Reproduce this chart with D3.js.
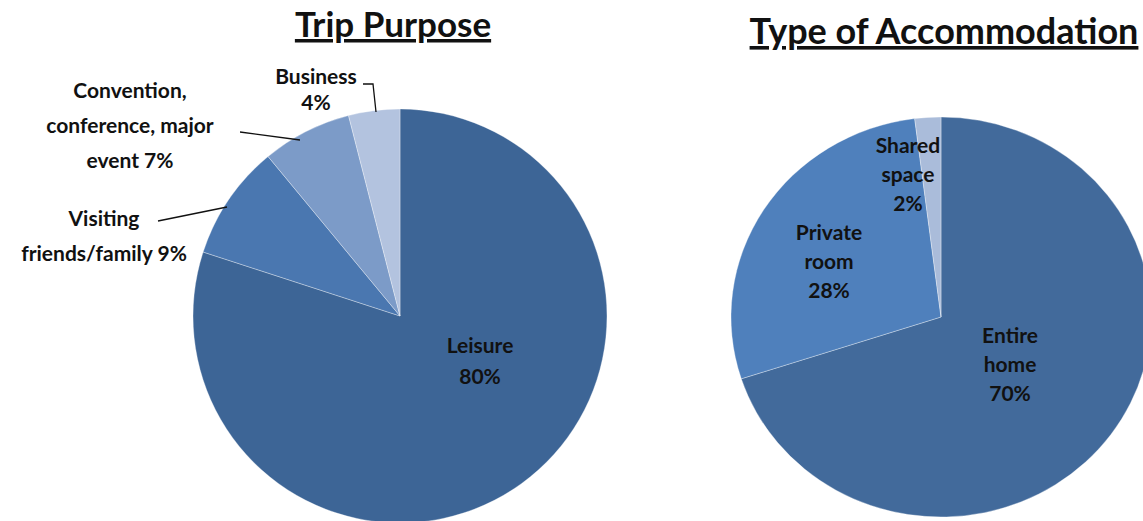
<!DOCTYPE html>
<html>
<head>
<meta charset="utf-8">
<script src="https://cdn.jsdelivr.net/npm/d3@7"></script>
<style>
  html, body { margin: 0; padding: 0; background: #fff; }
  svg { display: block; }
  text { font-family: Lato, "Open Sans", sans-serif; font-weight: 700; fill: #111; }
</style>
</head>
<body>
<svg id="chart" width="1143" height="521"></svg>
<script>
// Trip purpose shares (%)
const purposeCategories = ["Leisure", "Visiting friends/family", "Convention, conference, major event", "Business"];
const purposeValues = [80, 9, 7, 4];
const purposeColors = ["#3d6596", "#4a77b0", "#7c9bc8", "#b3c3df"];

// Accommodation type shares (%)
const accomCategories = ["Entire home", "Private room", "Shared space"];
const accomValues = [70, 28, 2];
const accomColors = ["#426a9b", "#4f80bc", "#aabcda"];

const svg = d3.select("#chart");
const pie = d3.pie().sort(null).value(d => d.value);

function drawPie(opts) {
  const data = opts.categories.map((c, i) => ({ name: c, value: opts.values[i], color: opts.colors[i] }));
  const arcs = pie(data);
  const arc = d3.arc().innerRadius(0).outerRadius(opts.r);
  const g = svg.append("g")
    .attr("transform", `translate(${opts.cx},${opts.cy}) scale(${opts.sx || 1},1)`);
  g.selectAll("path")
    .data(arcs)
    .join("path")
    .attr("d", arc)
    .attr("fill", d => d.data.color)
    .attr("stroke", "rgba(255,255,255,0.55)")
    .attr("stroke-width", 0.6);

  // title
  svg.append("text")
    .attr("x", opts.titleX)
    .attr("y", opts.titleY)
    .attr("text-anchor", "middle")
    .style("font-size", opts.titleSize + "px")
    .style("text-decoration", "underline")
    .text(opts.title);

  // labels
  opts.labels.forEach((lab, i) => {
    const d = arcs[i];
    const txt = svg.append("text")
      .attr("text-anchor", "middle")
      .style("font-size", opts.labelSize + "px");
    lab.lines(d).forEach((line, j) => {
      txt.append("tspan")
        .attr("x", lab.x)
        .attr("y", lab.y + j * lab.lh)
        .text(line);
    });
    if (lab.leader) {
      svg.append("polyline")
        .attr("points", lab.leader.map(p => p.join(",")).join(" "))
        .attr("fill", "none")
        .attr("stroke", "#111")
        .attr("stroke-width", 1.3);
    }
  });
}

const pct = d => d.data.value + "%";

drawPie({
  categories: purposeCategories, values: purposeValues, colors: purposeColors,
  cx: 400, cy: 316, r: 207,
  title: "Trip Purpose", titleX: 393, titleY: 37, titleSize: 35,
  labelSize: 21,
  labels: [
    { x: 480, y: 353, lh: 31, lines: d => ["Leisure", pct(d)] },
    { x: 104, y: 226, lh: 35, lines: d => ["Visiting", "friends/family " + pct(d)],
      leader: [[158, 221], [227, 207]] },
    { x: 130, y: 98, lh: 35, lines: d => ["Convention,", "conference, major", "event " + pct(d)],
      leader: [[240, 132], [300, 140]] },
    { x: 316, y: 84, lh: 26, lines: d => ["Business", pct(d)],
      leader: [[363, 84], [373, 84], [376, 112]] }
  ]
});

drawPie({
  categories: accomCategories, values: accomValues, colors: accomColors,
  cx: 941, cy: 317, r: 200, sx: 1.05,
  title: "Type of Accommodation", titleX: 944, titleY: 44, titleSize: 36,
  labelSize: 21,
  labels: [
    { x: 1010, y: 343, lh: 29, lines: d => ["Entire", "home", pct(d)] },
    { x: 829, y: 240, lh: 29, lines: d => ["Private", "room", pct(d)] },
    { x: 908, y: 153, lh: 29, lines: d => ["Shared", "space", pct(d)] }
  ]
});
</script>
</body>
</html>
